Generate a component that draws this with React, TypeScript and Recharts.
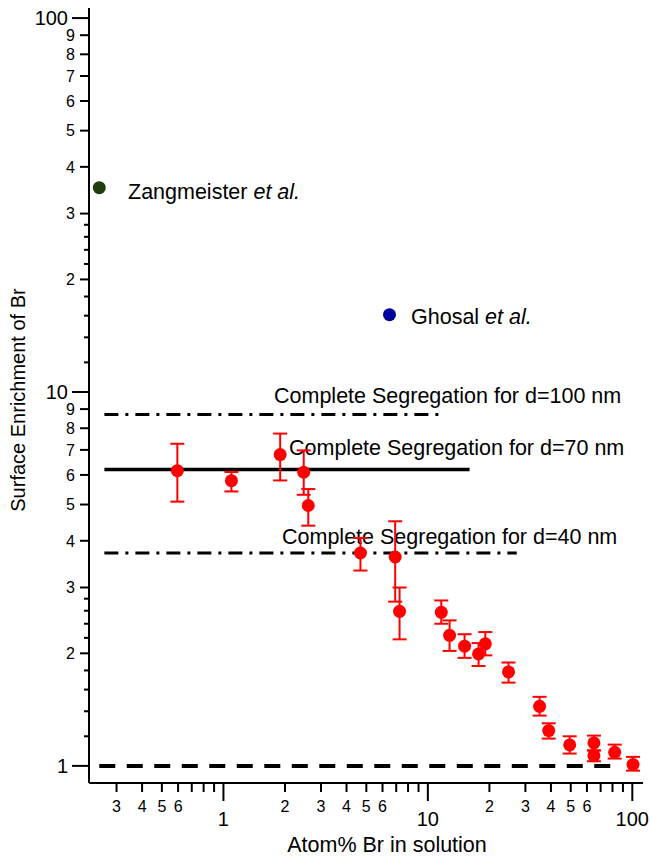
import { ErrorBar, ReferenceLine, Scatter, ScatterChart, XAxis, YAxis } from "recharts"

// measured points (Atom% Br, enrichment, error low / high)
const redX = [0.595, 1.094, 1.895, 2.47, 2.6, 4.68, 6.92, 7.27, 11.63, 12.77, 15.12, 17.7, 19.1, 24.8, 35.2, 39.0, 49.4, 64.9, 64.9, 82.0, 100.8]
const redY = [6.16, 5.79, 6.8, 6.1, 4.97, 3.71, 3.62, 2.59, 2.575, 2.235, 2.09, 1.993, 2.12, 1.784, 1.443, 1.243, 1.138, 1.152, 1.065, 1.087, 1.008]
const redLow = [5.09, 5.42, 5.8, 5.31, 4.39, 3.33, 2.75, 2.18, 2.4, 2.03, 1.945, 1.85, 1.975, 1.67, 1.363, 1.183, 1.079, 1.1, 1.029, 1.046, 0.971]
const redHigh = [7.27, 6.11, 7.74, 6.98, 5.5, 4.07, 4.51, 3.0, 2.77, 2.45, 2.25, 2.13, 2.28, 1.89, 1.53, 1.3, 1.2, 1.205, 1.1, 1.14, 1.057]

const zangmeister = [{ x: 0.247, y: 35.2 }]
const ghosal = [{ x: 6.49, y: 16.1 }]

// complete segregation levels and their x extent
const seg100 = { y: 8.7, x0: 0.2616, x1: 12.07 }
const seg70 = { y: 6.2, x0: 0.2616, x1: 16.0 }
const seg40 = { y: 3.71, x0: 0.2616, x1: 27.2 }
const unity = { y: 1.0, x0: 0.247, x1: 80 }

const xMajor = [1, 10, 100]
const xMinorLabeled = [0.3, 0.4, 0.5, 0.6, 2, 3, 4, 5, 6, 20, 30, 40, 50, 60]
const xMinor = [0.7, 0.8, 0.9, 7, 8, 9, 70, 80, 90]
const yMajor = [1, 10, 100]
const yMinorLabeled = [2, 3, 4, 5, 6, 7, 8, 9, 20, 30, 40, 50, 60, 70, 80, 90]
const yMinor = [1.2, 1.4, 1.6, 1.8, 2.2, 2.4, 2.6, 2.8, 12, 14, 16, 18, 22, 24, 26, 28]

const xTicks = [...xMajor, ...xMinorLabeled, ...xMinor].sort((a, b) => a - b)
const yTicks = [...yMajor, ...yMinorLabeled, ...yMinor].sort((a, b) => a - b)

const redData = redX.map((x, i) => ({
  x,
  y: redY[i],
  err: [redY[i] - redLow[i], redHigh[i] - redY[i]],
}))

const leadDigit = (v: number) => String(Math.round(v / 10 ** Math.floor(Math.log10(v) + 1e-9)))

const FONT = "'Liberation Sans', Arial, Helvetica, sans-serif"

function XTick({ x, y, payload }: any) {
  const v = payload.value
  if (xMajor.includes(v)) {
    return (
      <g>
        <line x1={x} y1={y} x2={x} y2={y + 18} stroke="#000" strokeWidth={2} />
        <text x={x} y={y + 43} textAnchor="middle" fontSize={20} fill="#000">{v}</text>
      </g>
    )
  }
  return (
    <g>
      <line x1={x} y1={y} x2={x} y2={y + 9} stroke="#000" strokeWidth={2} />
      {xMinorLabeled.includes(v) && (
        <text x={x} y={y + 29} textAnchor="middle" fontSize={16} fill="#000">{leadDigit(v)}</text>
      )}
    </g>
  )
}

function YTick({ x, y, payload }: any) {
  const v = payload.value
  if (yMajor.includes(v)) {
    return (
      <g>
        <line x1={x} y1={y} x2={x - 17} y2={y} stroke="#000" strokeWidth={2} />
        <text x={x - 21} y={y} dy="0.36em" textAnchor="end" fontSize={20} fill="#000">{v}</text>
      </g>
    )
  }
  if (yMinorLabeled.includes(v)) {
    return (
      <g>
        <line x1={x} y1={y} x2={x - 9} y2={y} stroke="#000" strokeWidth={2} />
        <text x={x - 14} y={y} dy="0.36em" textAnchor="end" fontSize={16} fill="#000">{leadDigit(v)}</text>
      </g>
    )
  }
  return <line x1={x} y1={y} x2={x - 5} y2={y} stroke="#000" strokeWidth={2} />
}

const dot = (color: string) => (props: any) => (
  <circle cx={props.cx} cy={props.cy} r={6.5} fill={color} />
)

export default function App() {
  return (
    <div style={{ position: "absolute", left: 0, top: 0, fontFamily: FONT }}>
      <ScatterChart
        width={650}
        height={857}
        margin={{ top: 8, right: 7, bottom: 0, left: 0 }}
        style={{ fontFamily: FONT }}
      >
        <XAxis
          dataKey="x"
          type="number"
          scale="log"
          domain={[0.22, 112.8]}
          allowDataOverflow
          ticks={xTicks}
          interval={0}
          tick={<XTick />}
          tickLine={false}
          tickSize={0}
          tickMargin={0}
          height={74}
          axisLine={{ stroke: "#000", strokeWidth: 2 }}
        />
        <XAxis
          xAxisId="top"
          orientation="top"
          dataKey="x"
          type="number"
          scale="log"
          domain={[0.22, 112.8]}
          allowDataOverflow
          height={0}
          tick={false}
          tickLine={false}
          axisLine={{ stroke: "#000", strokeWidth: 2 }}
        />
        <YAxis
          dataKey="y"
          type="number"
          scale="log"
          domain={[0.9, 106.4]}
          allowDataOverflow
          ticks={yTicks}
          interval={0}
          tick={<YTick />}
          tickLine={false}
          tickSize={0}
          tickMargin={0}
          width={89}
          axisLine={{ stroke: "#000", strokeWidth: 2 }}
        />
        <YAxis
          yAxisId="right"
          orientation="right"
          dataKey="y"
          type="number"
          scale="log"
          domain={[0.9, 106.4]}
          allowDataOverflow
          width={0}
          tick={false}
          tickLine={false}
          axisLine={{ stroke: "#000", strokeWidth: 2 }}
        />
        <ReferenceLine
          segment={[{ x: unity.x0, y: unity.y }, { x: unity.x1, y: unity.y }]}
          stroke="#000"
          strokeWidth={4}
          strokeDasharray="16 11.5"
          ifOverflow="visible"
        />
        <ReferenceLine
          segment={[{ x: seg100.x0, y: seg100.y }, { x: seg100.x1, y: seg100.y }]}
          stroke="#000"
          strokeWidth={3}
          strokeDasharray="14 7 3 7"
          ifOverflow="visible"
        />
        <ReferenceLine
          segment={[{ x: seg70.x0, y: seg70.y }, { x: seg70.x1, y: seg70.y }]}
          stroke="#000"
          strokeWidth={3.5}
          ifOverflow="visible"
        />
        <ReferenceLine
          segment={[{ x: seg40.x0, y: seg40.y }, { x: seg40.x1, y: seg40.y }]}
          stroke="#000"
          strokeWidth={3}
          strokeDasharray="14 7 3 7"
          ifOverflow="visible"
        />
        <Scatter data={redData} fill="#ff0000" shape={dot("#ff0000")} isAnimationActive={false}>
          <ErrorBar dataKey="err" direction="y" width={7} stroke="#ff0000" strokeWidth={2} />
        </Scatter>
        <Scatter data={zangmeister} fill="#213c0e" shape={dot("#213c0e")} isAnimationActive={false} />
        <Scatter data={ghosal} fill="#00009c" shape={dot("#00009c")} isAnimationActive={false} />

        <text x={128} y={199} fontSize={21.5} fill="#000">
          Zangmeister <tspan fontStyle="italic">et al.</tspan>
        </text>
        <text x={411} y={324} fontSize={21.5} fill="#000">
          Ghosal <tspan fontStyle="italic">et al.</tspan>
        </text>
        <text x={274} y={403} fontSize={21.5} fill="#000">Complete Segregation for d=100 nm</text>
        <text x={289} y={455} fontSize={21.5} fill="#000">Complete Segregation for d=70 nm</text>
        <text x={282} y={544} fontSize={21.5} fill="#000">Complete Segregation for d=40 nm</text>
        <text x={387} y={852} textAnchor="middle" fontSize={21.5} fill="#000">Atom% Br in solution</text>
        <text x={18} y={400} transform="rotate(-90 18 400)" dy="0.36em" textAnchor="middle" fontSize={20} fill="#000">
          Surface Enrichment of Br
        </text>
      </ScatterChart>
    </div>
  )
}
